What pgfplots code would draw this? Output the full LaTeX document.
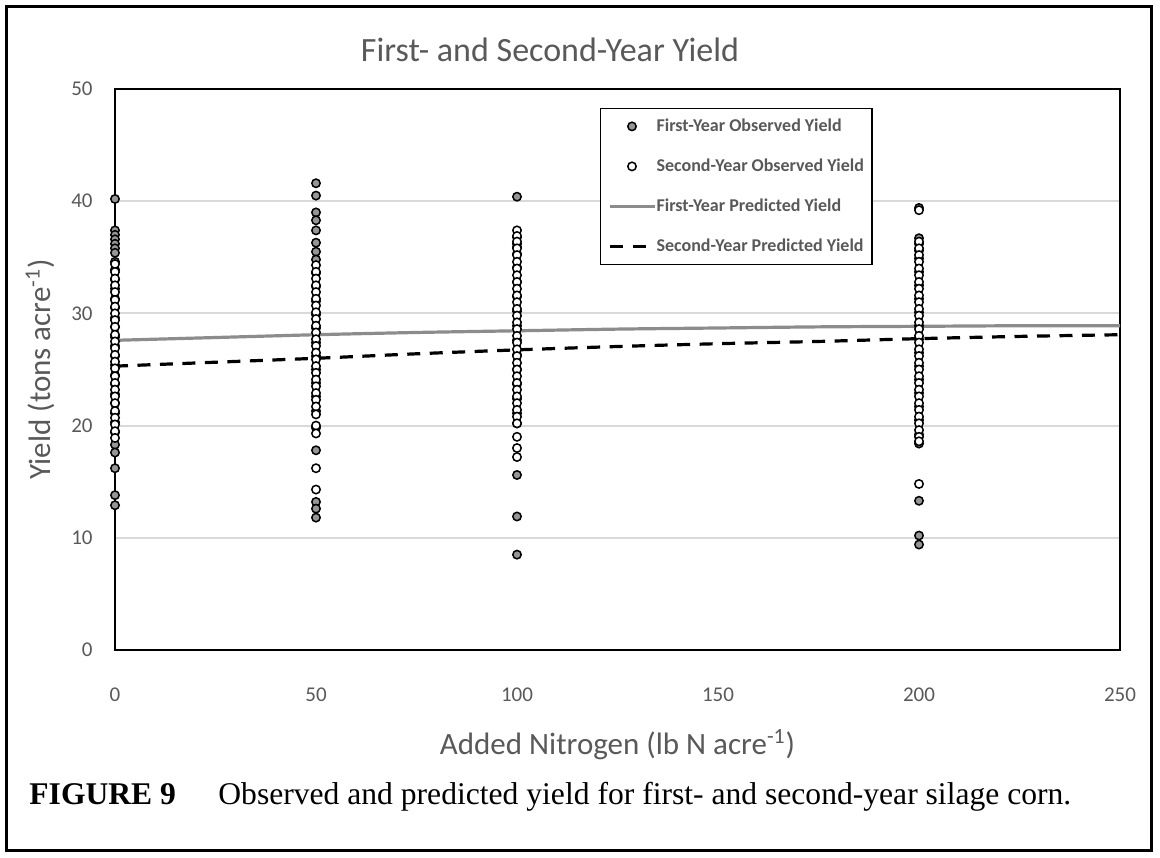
\documentclass[border=0pt]{standalone}
\usepackage{pgfplots}
\pgfplotsset{compat=1.18}
\usepackage{fontspec}
\setmainfont{Carlito}
\newfontfamily\capfont{Liberation Serif}
\definecolor{txt}{HTML}{595959}
\definecolor{gridc}{HTML}{D9D9D9}
\definecolor{obsone}{HTML}{969696}
\definecolor{predone}{HTML}{8C8C8C}

\begin{document}
\begin{tikzpicture}
% page and outer frame
\path[fill=white] (0,0) rectangle (580pt,428.5pt);
\draw[black, line width=1.5pt] (3.25pt,3.5pt) rectangle (575.75pt,425.25pt);

\begin{axis}[
  at={(57.5pt,103.5pt)}, anchor=south west,
  width=502.5pt, height=280.5pt, scale only axis,
  xmin=0, xmax=250, ymin=0, ymax=50,
  xtick={0,50,...,250}, ytick={0,10,...,50},
  axis line style={black, line width=1.2pt},
  major tick length=0pt,
  ymajorgrids, grid style={gridc, line width=1pt},
  tick label style={font=\fontsize{10.5}{12}\selectfont, text=txt, inner sep=0pt},
  /pgf/number format/assume math mode=true,
  xticklabel style={anchor=north}, xticklabel shift=18.5pt,
  yticklabel style={anchor=east}, yticklabel shift=11pt,
  xlabel={Added Nitrogen (lb N acre\textsuperscript{-1})},
  ylabel={Yield (tons acre\textsuperscript{-1})},
  label style={font=\fontsize{15.5}{18}\selectfont, text=txt},
  xlabel style={at={(axis description cs:0.5,-0.169)}, anchor=center},
  ylabel style={at={(axis description cs:-0.0746,0.5)}, anchor=center, rotate=0},
  legend cell align=left,
  legend style={at={(0.754,0.686)}, anchor=south east, draw=black, line width=0.75pt,
    font=\bfseries\fontsize{9}{11}\selectfont, text=txt,
    inner xsep=4pt, inner ysep=4.5pt, row sep=11pt,
    nodes={inner sep=0pt, text height=7pt, text depth=2pt},
    /tikz/every even column/.append style={column sep=2.25pt}},
  legend image code/.code={\draw[mark repeat=2,mark phase=2,#1] plot coordinates {(0pt,0pt) (11pt,0pt) (22.5pt,0pt)};},
]

% first-year observed yield
\addplot[only marks, mark=*, mark size=2.1pt, mark options={fill=obsone, draw=black, line width=0.75pt}]
coordinates {
(0,40.2) (0,37.4) (0,37.0) (0,36.6) (0,36.2) (0,35.8) (0,35.4) (0,34.6) (0,33.9) (0,33.0)
(0,32.2) (0,31.3) (0,30.5) (0,29.6) (0,28.8) (0,27.9) (0,27.1) (0,26.2) (0,25.4) (0,24.5)
(0,23.7) (0,22.8) (0,22.0) (0,21.1) (0,20.3) (0,19.4) (0,18.3) (0,17.6) (0,16.2) (0,13.8) (0,12.9)
(50,41.6) (50,40.5) (50,39.0) (50,38.3) (50,37.4) (50,36.3) (50,35.5) (50,34.8) (50,33.6) (50,32.4)
(50,31.1) (50,29.9) (50,28.7) (50,27.4) (50,26.2) (50,25.0) (50,23.8) (50,22.6) (50,21.3) (50,19.8)
(50,17.8) (50,13.2) (50,12.6) (50,11.8)
(100,40.4) (100,36.8) (100,36.2) (100,35.9) (100,35.3) (100,34.1) (100,32.8) (100,31.5) (100,30.2) (100,28.9)
(100,27.6) (100,26.3) (100,25.0) (100,23.7) (100,22.4) (100,21.1) (100,20.2) (100,15.6) (100,11.9) (100,8.5)
(200,39.4) (200,36.7) (200,36.2) (200,35.6) (200,34.9) (200,33.7) (200,32.5) (200,31.3) (200,30.1) (200,28.9)
(200,27.7) (200,26.5) (200,25.3) (200,24.1) (200,22.9) (200,21.7) (200,20.5) (200,19.2) (200,18.4) (200,13.3)
(200,10.2) (200,9.4)
};
\addlegendentry{First-Year Observed Yield}

% second-year observed yield
\addplot[only marks, mark=*, mark size=2.1pt, mark options={fill=white, draw=black, line width=0.75pt}]
coordinates {
(0,34.4) (0,33.7) (0,33.1) (0,32.5) (0,31.9) (0,31.2) (0,30.6) (0,30.0) (0,29.4) (0,28.8)
(0,28.1) (0,27.5) (0,26.9) (0,26.3) (0,25.7) (0,25.1) (0,24.4) (0,23.8) (0,23.2) (0,22.6)
(0,22.0) (0,21.3) (0,20.7) (0,20.1) (0,19.5) (0,18.9)
(50,34.3) (50,33.7) (50,33.1) (50,32.5) (50,31.9) (50,31.3) (50,30.7) (50,30.1) (50,29.5) (50,28.9)
(50,28.3) (50,27.7) (50,27.1) (50,26.5) (50,25.9) (50,25.3) (50,24.7) (50,24.1) (50,23.5) (50,22.9)
(50,22.3) (50,21.7) (50,21.0) (50,20.0) (50,19.3) (50,16.2) (50,14.3)
(100,37.4) (100,36.9) (100,36.4) (100,35.8) (100,35.2) (100,34.6) (100,34.0) (100,33.4) (100,32.8) (100,32.2)
(100,31.6) (100,31.0) (100,30.4) (100,29.8) (100,29.2) (100,28.6) (100,28.0) (100,27.4) (100,26.8) (100,26.2)
(100,25.6) (100,25.0) (100,24.4) (100,23.8) (100,23.2) (100,22.6) (100,22.0) (100,21.4) (100,20.8) (100,20.2)
(100,19.0) (100,18.0) (100,17.2)
(200,39.2) (200,36.4) (200,35.8) (200,35.2) (200,34.6) (200,34.0) (200,33.4) (200,32.8) (200,32.2) (200,31.6)
(200,31.0) (200,30.4) (200,29.8) (200,29.2) (200,28.6) (200,28.0) (200,27.4) (200,26.8) (200,26.2) (200,25.6)
(200,25.0) (200,24.4) (200,23.8) (200,23.2) (200,22.6) (200,22.0) (200,21.4) (200,20.8) (200,20.2) (200,19.6)
(200,19.0) (200,18.6) (200,14.8)
};
\addlegendentry{Second-Year Observed Yield}

% first-year predicted yield
\addplot[predone, line width=1.6pt, smooth, no marks]
coordinates {
(0,27.6) (25,27.85) (50,28.1) (75,28.3) (100,28.45) (125,28.6)
(150,28.7) (175,28.8) (200,28.85) (225,28.9) (250,28.9)
};
\addlegendentry{First-Year Predicted Yield}

% second-year predicted yield
\addplot[black, line width=1.6pt, dash pattern=on 6.5pt off 4.75pt, smooth, no marks]
coordinates {
(0,25.3) (25,25.65) (50,26.0) (75,26.4) (100,26.75) (125,27.05)
(150,27.3) (175,27.5) (200,27.75) (225,27.95) (250,28.1)
};
\addlegendentry{Second-Year Predicted Yield}
\end{axis}

% chart title
\node[anchor=base, text=txt, font=\fontsize{17}{20}\selectfont] at (275pt,397.5pt) {First- and Second-Year Yield};

% figure caption
\node[anchor=base west, inner sep=0pt, font=\capfont\bfseries\fontsize{15.8}{19}\selectfont] at (14.5pt,26.5pt) {FIGURE 9};
\node[anchor=base west, inner sep=0pt, font=\capfont\fontsize{15.8}{19}\selectfont] at (109pt,26.5pt) {Observed and predicted yield for first- and second-year silage corn.};
\end{tikzpicture}
\end{document}
